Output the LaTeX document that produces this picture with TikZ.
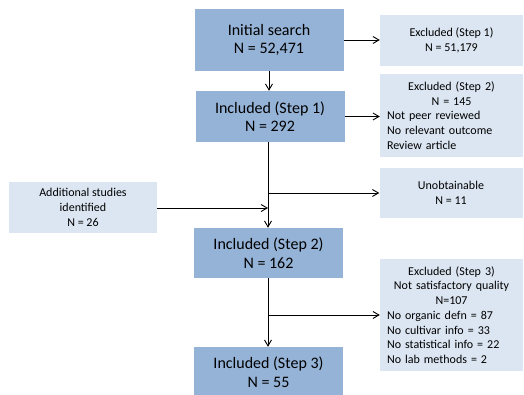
\documentclass[tikz,border=0pt]{standalone}
\usepackage{fontspec}
\setmainfont{Carlito}
\usetikzlibrary{arrows.meta}

\definecolor{inclblue}{HTML}{95B3D7}
\definecolor{exclblue}{HTML}{DCE6F2}

\begin{document}
\begin{tikzpicture}[x=1pt,y=-1pt,
	inclbox/.style={fill=inclblue,minimum width=149pt,inner sep=0pt,align=center,font=\fontsize{16}{18.5}\selectfont},
	exclbox/.style={fill=exclblue,minimum width=143pt,inner sep=0pt,font=\fontsize{12}{14.7}\selectfont},
	flow/.style={line width=0.9pt,-{Straight Barb[length=6pt,width=7pt]}}]
	\useasboundingbox (0,0) rectangle (524,394);
	
	% Included boxes (main column)
	\node[inclbox,minimum height=62pt] (init) at (269,40) {Initial search\\N = 52,471};
	\node[inclbox,minimum height=51pt] (incl1) at (270,116.5) {Included (Step 1)\\N = 292};
	\node[inclbox,minimum height=50pt] (incl2) at (268.5,253) {Included (Step 2)\\N = 162};
	\node[inclbox,minimum height=50pt] (incl3) at (268.5,372) {Included (Step 3)\\N = 55};
	
	% Excluded boxes (right column)
	\node[exclbox,minimum height=51pt,align=center] (excl1) at (451.5,40.5) {Excluded (Step 1)\\N = 51,179};
	\node[exclbox,minimum height=83pt,text width=129pt,inner xsep=7pt] (excl2) at (451.5,115.5)
		{\centering Excluded (Step 2)\\N = 145\par\raggedright Not peer reviewed\\No relevant outcome\\Review article};
	\node[exclbox,minimum height=50pt,align=center] (unobt) at (451,193) {Unobtainable\\N = 11};
	\node[exclbox,minimum height=112pt,text width=129pt,inner xsep=7pt] (excl3) at (451.5,315)
		{\centering Excluded (Step 3)\\Not satisfactory quality\\N=107\par\raggedright No organic defn = 87\\No cultivar info = 33\\No statistical info = 22\\No lab methods = 2};
	
	% Extra studies (left)
	\node[exclbox,minimum width=148pt,minimum height=51pt,align=center] (addl) at (83,207.5) {Additional studies\\identified\\N = 26};
	
	% Junctions on the main line
	\coordinate (split1) at (268,193);
	\coordinate (join1) at (268,208);
	\coordinate (split2) at (268,315);
	
	% Connectors
	\draw[flow] (init.south) -- (init.south |- incl1.north);
	\draw[flow] (init.east) -- (init.east -| excl1.west);
	\draw[flow] (incl1.east) -- (incl1.east -| excl2.west);
	\draw[line width=0.9pt] (incl1.south -| split1) -- (split1);
	\draw[flow] (split1) -- (split1 -| unobt.west);
	\draw[flow] (split1) -- (split1 |- incl2.north);
	\draw[flow] (addl.east |- join1) -- (join1);
	\draw[flow] (incl2.south -| split2) -- (split2 |- incl3.north);
	\draw[flow] (split2) -- (split2 -| excl3.west);
\end{tikzpicture}
\end{document}
